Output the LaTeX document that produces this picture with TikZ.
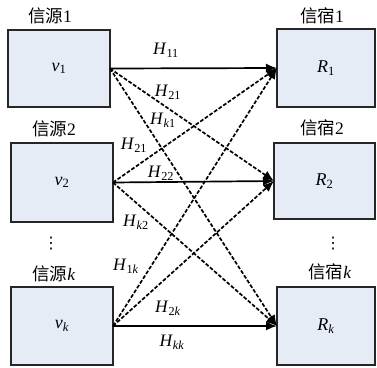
\documentclass[tikz,border=0pt]{standalone}
\usepackage{fontspec}
\setmainfont{Liberation Serif}
\newfontfamily\cjk{Noto Sans CJK SC}
\newfontfamily\dejavu{DejaVu Sans}
\usetikzlibrary{arrows.meta}
\definecolor{boxfill}{RGB}{230,236,246}
\newcommand{\Hl}[1]{\textit{H}\textsubscript{#1}}
\begin{document}
\begin{tikzpicture}[x=1pt,y=-1pt,
  box/.style={draw=black!85,line width=1.5pt,fill=boxfill,inner sep=0pt,outer sep=0pt,font=\fontsize{18}{20}\selectfont},
  boxcaption/.style={font=\fontsize{17.5}{20}\selectfont},
  vdotsnode/.style={font=\dejavu\fontsize{16}{17}\selectfont,inner sep=0pt},
  lab/.style={font=\fontsize{17.5}{19}\selectfont,inner sep=0pt},
  link/.style={line width=1.7pt,-{Latex[length=11pt,width=9pt]}},
  dlink/.style={link,dash pattern=on 3.8pt off 1.8pt}]
\useasboundingbox (0,0) rectangle (377,367);
\node[box,minimum width=102pt,minimum height=77pt] (v1) at (59,68.5) {\textit{v}\textsubscript{1}};
\node[box,minimum width=102pt,minimum height=79pt] (v2) at (62,182.5) {\textit{v}\textsubscript{2}};
\node[box,minimum width=102pt,minimum height=78pt] (vk) at (62,326) {\textit{v}\textsubscript{\textit{k}}};
\node[box,minimum width=98pt,minimum height=78pt] (R1) at (326,68) {\textit{R}\textsubscript{1}};
\node[box,minimum width=101pt,minimum height=76pt] (R2) at (324.5,181) {\textit{R}\textsubscript{2}};
\node[box,minimum width=98pt,minimum height=78pt] (Rk) at (326,326) {\textit{R}\textsubscript{\textit{k}}};
\node[boxcaption] (s1) at (50,16) {{\cjk 信源}1};
\node[boxcaption] (s2) at (54,129) {{\cjk 信源}2};
\node[boxcaption] (sk) at (54,274) {{\cjk 信源}\textit{k}};
\node[vdotsnode] (sd) at (51,244) {⋮};
\node[boxcaption] (t1) at (322,16) {{\cjk 信宿}1};
\node[boxcaption] (t2) at (322,128) {{\cjk 信宿}2};
\node[boxcaption] (tk) at (330,272) {{\cjk 信宿}\textit{k}};
\node[vdotsnode] (td) at (333,244) {⋮};
\draw[link] (v1.east) -- (R1.west);
\draw[link] (v2.east) -- (R2.west);
\draw[link] (vk.east) -- (Rk.west);
\draw[dlink] (v1.east) -- (R2.west);
\draw[dlink] (v1.east) -- (Rk.west);
\draw[dlink] (v2.east) -- (R1.west);
\draw[dlink] (v2.east) -- (Rk.west);
\draw[dlink] (vk.east) -- (R1.west);
\draw[dlink] (vk.east) -- (R2.west);
\node[lab] (h11) at (166,50) {\Hl{11}};
\node[lab] (h21) at (168,92) {\Hl{21}};
\node[lab] (hk1) at (163,120) {\Hl{\textit{k}1}};
\node[lab] (h12) at (134,145) {\Hl{21}};
\node[lab] (h22) at (161,173) {\Hl{22}};
\node[lab] (hk2) at (136,222) {\Hl{\textit{k}2}};
\node[lab] (h1k) at (126,266) {\Hl{1\textit{k}}};
\node[lab] (h2k) at (168,308) {\Hl{2\textit{k}}};
\node[lab] (hkk) at (172,342) {\Hl{\textit{kk}}};
\end{tikzpicture}
\end{document}
